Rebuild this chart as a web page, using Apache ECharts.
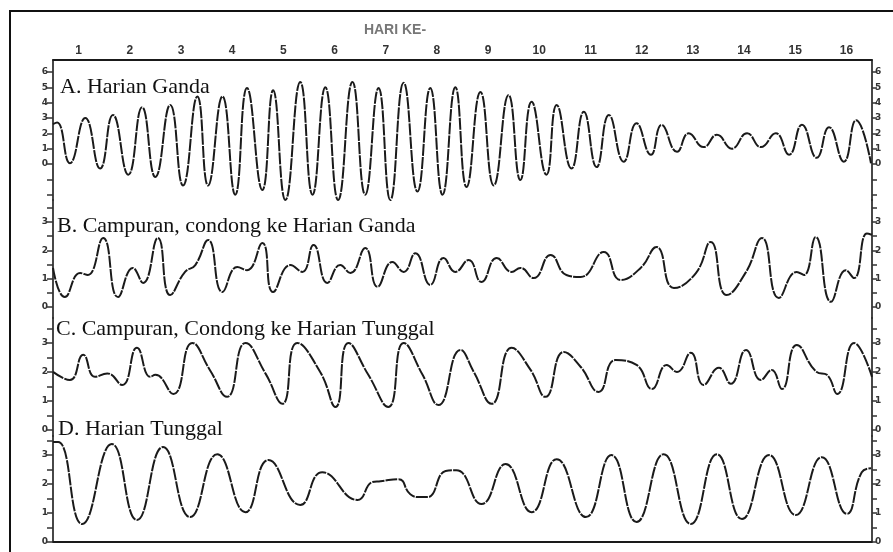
<!DOCTYPE html>
<html><head><meta charset="utf-8">
<script src="https://cdn.jsdelivr.net/npm/echarts@6/dist/echarts.min.js"></script>
<style>html,body{margin:0;padding:0;background:#fff}#c{width:893px;height:552px}</style>
</head><body><div id="c"></div>
<script>
// Day labels (top axis)
const dayLabels = ['1','2','3','4','5','6','7','8','9','10','11','12','13','14','15','16'];
const axisTitle = 'HARI KE-';
const panelTitles = ['A. Harian Ganda', 'B. Campuran, condong ke Harian Ganda', 'C. Campuran, Condong ke Harian Tunggal', 'D. Harian Tunggal'];

// A. Harian Ganda (time in days, level)
const timeA = [0,0.08,0.33,0.63,0.92,1.17,1.47,1.74,2.00,2.29,2.54,2.82,3.03,3.31,3.56,3.79,4.09,4.30,4.54,4.83,5.07,5.32,5.57,5.85,6.10,6.36,6.59,6.85,7.12,7.37,7.61,7.86,8.08,8.35,8.61,8.90,9.13,9.35,9.64,9.84,10.13,10.37,10.62,10.86,11.15,11.40,11.68,11.89,12.19,12.42,12.71,12.97,13.26,13.56,13.83,14.12,14.38,14.63,14.92,15.16,15.45,15.69,15.98];
const levelA = [2.6,2.7,0.05,3.0,-0.3,3.2,-0.7,3.7,-0.85,3.85,-1.4,4.4,-1.4,4.4,-2.0,4.95,-1.7,4.8,-2.35,5.35,-2.0,5.0,-2.35,5.35,-2.0,4.95,-2.35,5.3,-1.8,4.95,-2.0,5.0,-1.5,4.7,-1.4,4.5,-1.05,4.05,-0.7,3.85,-0.3,3.4,-0.2,3.2,0.15,2.65,0.6,2.55,0.8,2.0,1.1,1.9,1.0,2.0,1.1,2.0,0.6,2.55,0.4,2.4,0.15,2.85,0.05];

// B. Campuran, condong ke Harian Ganda
const timeB = [0,0.23,0.53,0.68,0.98,1.27,1.56,1.76,2.05,2.29,2.58,2.78,3.03,3.31,3.60,3.79,4.09,4.30,4.64,4.87,5.09,5.36,5.61,5.81,6.10,6.34,6.63,6.85,7.08,7.37,7.63,7.86,8.12,8.37,8.67,8.96,9.13,9.39,9.72,10.03,10.31,10.76,11.09,11.48,11.79,12.13,12.56,12.85,13.16,13.54,13.85,14.18,14.53,14.67,14.90,15.20,15.49,15.65,15.90,16.00];
const levelB = [1.38,0.35,1.2,1.13,2.44,0.35,1.38,0.85,2.44,0.42,1.24,1.48,2.37,0.53,1.41,1.3,2.26,0.53,1.48,1.24,2.19,0.85,1.48,1.2,2.08,0.71,1.59,1.24,1.9,0.78,1.73,1.24,1.66,0.88,1.73,1.24,1.38,1.02,1.84,1.13,1.06,1.94,0.95,1.38,2.12,0.67,1.2,2.3,0.42,1.24,2.44,0.32,1.24,1.13,2.47,0.18,1.3,1.02,2.6,2.55];

// C. Campuran, Condong ke Harian Tunggal
const timeC = [0,0.33,0.59,0.82,1.06,1.35,1.64,1.90,2.00,2.35,2.72,3.07,3.40,3.76,4.15,4.48,4.77,5.22,5.52,5.77,6.16,6.55,6.85,7.22,7.53,7.96,8.22,8.57,8.96,9.33,9.62,9.98,10.31,10.66,10.99,11.40,11.70,11.99,12.19,12.46,12.71,13.01,13.24,13.54,13.83,14.04,14.24,14.53,14.92,15.12,15.32,15.65,16.00];
const levelC = [2.0,1.72,2.59,1.83,1.95,1.55,2.83,1.83,1.9,1.24,3.0,2.05,1.14,3.0,1.95,0.9,3.0,2.0,0.79,3.0,1.9,0.79,3.0,1.9,0.86,2.76,2.0,0.9,2.83,2.07,1.14,2.69,2.17,1.31,2.41,2.24,1.41,2.24,2.0,2.66,1.55,2.14,1.59,2.76,1.72,2.07,1.41,2.93,2.0,1.9,1.24,3.0,1.83];

// D. Harian Tunggal
const timeD = [0,0.10,0.57,1.15,1.64,2.15,2.68,3.21,3.76,4.21,4.83,5.26,5.95,6.24,6.40,6.75,6.98,7.18,7.32,7.67,7.88,8.37,8.84,9.35,9.84,10.41,10.91,11.40,11.93,12.46,12.97,13.46,13.99,14.51,15.02,15.51,15.80,15.98];
const levelD = [3.45,3.45,0.62,3.38,0.76,3.28,0.86,3.03,1.03,2.83,1.28,2.41,1.45,2.07,2.1,2.17,1.65,1.55,1.55,2.45,2.48,1.31,2.69,1.03,2.86,0.86,3.0,0.69,3.03,0.62,3.03,0.79,3.0,0.93,2.93,0.97,2.41,2.55];

// Axis ticks / labels
const ticksA = [-2,-1,0,1,2,3,4,5,6];
const labelsA = [0,1,2,3,4,5,6];
const ticksBCD = [0,0.5,1,1.5,2,2.5,3,3.5];
const labelsBCD = [0,1,2,3];

const times = [timeA, timeB, timeC, timeD];
const levels = [levelA, levelB, levelC, levelD];
const tickSets = [ticksA, ticksBCD, ticksBCD, ticksBCD];
const labelSets = [labelsA, labelsBCD, labelsBCD, labelsBCD];

const gridBoxes = [
  {top: 60, height: 140, min: -2.35, max: 6.78},
  {top: 200, height: 118, min: -0.39, max: 3.78},
  {top: 318, height: 118, min: -0.21, max: 3.86},
  {top: 436, height: 106, min: 0, max: 3.66}
];
const LEFT = 53, RIGHT = 21;
const ink = '#1a1a1a';

const grid = gridBoxes.map(g => ({left: LEFT, right: RIGHT, top: g.top, height: g.height}));
const xAxis = gridBoxes.map((g, i) => ({type: 'value', gridIndex: i, min: 0, max: 16, show: false, position: i === 3 ? 'top' : 'bottom'}));
xAxis.push({
  type: 'category', gridIndex: 0, position: 'top', data: dayLabels, boundaryGap: true,
  axisLine: {onZero: false, lineStyle: {color: ink, width: 1.8}},
  axisTick: {inside: true, length: 3, lineStyle: {color: ink, width: 1.5}},
  axisLabel: {fontSize: 12, fontWeight: 'bold', color: '#333', margin: 3, fontFamily: 'Liberation Sans'},
  splitLine: {show: false}
});
xAxis.push({
  type: 'category', gridIndex: 3, position: 'bottom', data: dayLabels, boundaryGap: true,
  axisLine: {onZero: false, lineStyle: {color: ink, width: 1.8}},
  axisTick: {inside: true, length: 3, lineStyle: {color: ink, width: 1.5}},
  axisLabel: {show: false},
  splitLine: {show: false}
});

const yAxis = [];
gridBoxes.forEach((g, i) => {
  ['left', 'right'].forEach(pos => {
    const isLeft = pos === 'left';
    yAxis.push({
      type: 'value', gridIndex: i, position: pos, min: g.min, max: g.max,
      axisLine: {show: true, onZero: false, lineStyle: {color: ink, width: 1.6}},
      axisTick: {show: true, customValues: tickSets[i], length: isLeft ? 6 : 5, lineStyle: {color: '#333', width: 1.5}},
      axisLabel: {show: true, customValues: labelSets[i], fontSize: 9, fontWeight: 'bold', color: '#333', margin: isLeft ? 5 : 3, fontFamily: 'DejaVu Sans'},
      splitLine: {show: false}
    });
  });
});

const series = times.map((t, i) => ({
  type: 'line', xAxisIndex: i, yAxisIndex: i * 2, clip: false,
  data: t.map((d, k) => [d, levels[i][k]]),
  smooth: 0.5, showSymbol: false, symbol: 'none', silent: true,
  lineStyle: {color: ink, width: 2, type: [12, 1.2]}
}));

const titleY = [87, 226, 329, 429];
const titleX = [60, 57, 56, 58];
const graphic = [
  {type: 'rect', shape: {x: 10, y: 11, width: 900, height: 560}, style: {fill: 'none', stroke: '#111', lineWidth: 2}, silent: true},
  {type: 'text', x: 395, y: 30, style: {text: axisTitle, fill: '#777', font: 'bold 14px "Liberation Sans"', textAlign: 'center', textVerticalAlign: 'middle'}, silent: true}
];
panelTitles.forEach((t, i) => {
  graphic.push({type: 'text', x: titleX[i], y: titleY[i], z: 100,
    style: {text: t, fill: '#111', font: '22px "Liberation Serif"', textAlign: 'left', textVerticalAlign: 'middle'}, silent: true});
});

const chart = echarts.init(document.getElementById('c'), null, {renderer: 'canvas'});
chart.setOption({animation: false, backgroundColor: '#fff', grid, xAxis, yAxis, series, graphic});
</script></body></html>
